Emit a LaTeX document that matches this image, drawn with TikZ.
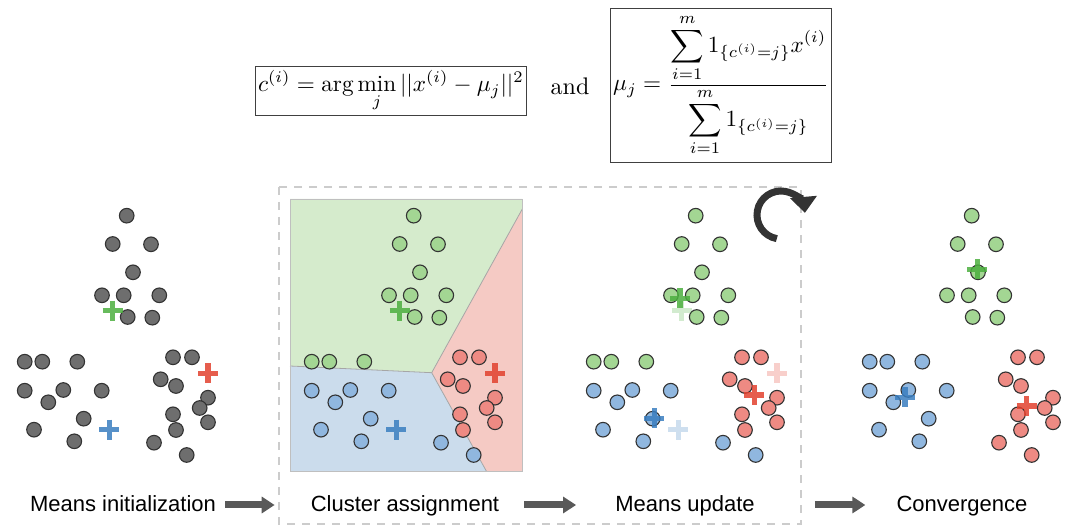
\documentclass[tikz,border=0pt]{standalone}
\usepackage{amsmath}
\usepackage{fontspec}
\setsansfont{Liberation Sans}
\usetikzlibrary{arrows.meta}

\definecolor{ptgray}{HTML}{6E6E6E}
\definecolor{ptgreen}{HTML}{A3D693}
\definecolor{ptblue}{HTML}{90B7DF}
\definecolor{ptred}{HTML}{EE8A83}
\definecolor{crgreen}{HTML}{4CAF3F}
\definecolor{crblue}{HTML}{3A7EC0}
\definecolor{crred}{HTML}{E2412E}
\definecolor{rggreen}{HTML}{D5EBCC}
\definecolor{rgblue}{HTML}{CBDCEC}
\definecolor{rgred}{HTML}{F5CAC4}

\newcommand\topgrp{126.7/215.7, 112.7/244, 151/244.3, 133/272.3, 102/295.3, 123.7/295.3, 159.3/295.3, 127.7/317, 152.3/317.7}
\newcommand\rowgrp{24.7/361.7, 42.3/361.7, 77.3/361.7}
\newcommand\leftgrp{24.7/390.7, 63.3/390, 101.7/390.7, 48.3/402.3, 83.7/418.7, 34/429.7, 74.3/441.3}
\newcommand\edgegrp{154/442.7, 186.7/455}
\newcommand\rightgrp{173/357.3, 192/357.3, 160.7/379.3, 176/386, 208/397.7, 199.7/408, 173/414.3, 208/422.3, 176/430}

\newcommand\pointset[3]{\foreach \px/\py in #2 {\draw[data point, fill=#3] (\px+#1,\py) circle[radius=7.3pt];}}
\newcommand\panel[6]{\pointset{#1}{\topgrp}{#2}\pointset{#1}{\rowgrp}{#3}\pointset{#1}{\leftgrp}{#4}\pointset{#1}{\edgegrp}{#5}\pointset{#1}{\rightgrp}{#6}}
\newcommand\ctrmark[4][]{\draw[centroid, #4, #1] (#2-10,#3) -- (#2+10,#3) (#2,#3-10) -- (#2,#3+10);}

\begin{document}
\begin{tikzpicture}[x=1pt,y=-1pt,
	step label/.style={font=\sffamily\fontsize{22}{26}\selectfont, anchor=base, inner sep=0pt},
	flow arrow/.style={line width=7pt, draw=black!65, -{Triangle[length=13pt,width=16pt]}},
	eq box/.style={draw=black!75, line width=0.8pt, inner xsep=1.2pt, inner ysep=1.5pt, scale=2.32},
	data point/.style={draw=black!80, line width=1.1pt},
	centroid/.style={line width=5.5pt, opacity=0.85}]
	\useasboundingbox (0,0) rectangle (1080,526);

	\node[eq box] (assign eq) at (391,91) {$\displaystyle c^{(i)} = \arg\min_j ||x^{(i)}-\mu_j||^2$};
	\node[scale=2.4] (and) at (570,86) {and};
	\node[eq box, inner ysep=2.5pt] (update eq) at (721,85) {$\displaystyle \mu_j = \frac{\displaystyle\sum_{i=1}^m 1_{\{c^{(i)}=j\}} x^{(i)}}{\displaystyle\sum_{i=1}^m 1_{\{c^{(i)}=j\}}}$};

	\fill[rggreen] (290,199) -- (522.3,199) -- (522.3,209) -- (431.7,372.7) -- (290,366) -- cycle;
	\fill[rgred] (522.3,209) -- (522.3,471.7) -- (486.7,471.7) -- (431.7,372.7) -- cycle;
	\fill[rgblue] (290,366) -- (431.7,372.7) -- (486.7,471.7) -- (290,471.7) -- cycle;
	\draw[black!35, line width=0.8pt] (290,366) -- (431.7,372.7) -- (522.3,209) (431.7,372.7) -- (486.7,471.7);
	\draw[black!25, line width=0.8pt] (290,199) rectangle (522.3,471.7);

	\draw[black!20, line width=2.5pt, dash pattern=on 8pt off 7pt] (279,187) rectangle (801,524);

	\panel{0}{ptgray}{ptgray}{ptgray}{ptgray}{ptgray}
	\panel{287}{ptgreen}{ptgreen}{ptblue}{ptblue}{ptred}
	\panel{569}{ptgreen}{ptgreen}{ptblue}{ptblue}{ptred}
	\panel{845}{ptgreen}{ptblue}{ptblue}{ptred}{ptred}

	\ctrmark{112.7}{310.7}{crgreen}
	\ctrmark{109.3}{429.7}{crblue}
	\ctrmark{208}{373.3}{crred}
	\ctrmark{399.7}{310.7}{crgreen}
	\ctrmark{396.3}{429.7}{crblue}
	\ctrmark{495}{373.3}{crred}
	\ctrmark[opacity=0.25]{681.7}{310.7}{crgreen}
	\ctrmark[opacity=0.25]{678.3}{429.7}{crblue}
	\ctrmark[opacity=0.25]{777}{373.3}{crred}
	\ctrmark{680}{298.3}{crgreen}
	\ctrmark{654.3}{418.3}{crblue}
	\ctrmark{754.3}{395}{crred}
	\ctrmark{977.3}{269.3}{crgreen}
	\ctrmark{905}{397.3}{crblue}
	\ctrmark{1026.7}{406}{crred}

	\draw[line width=7pt, black!80, -{Triangle[length=16pt,width=26pt]}] (781,215) ++(-100:24pt) arc[start angle=-100, end angle=-355, radius=24pt];

	\node[step label] (init) at (123,512) {Means initialization};
	\node[step label] (assign) at (405,512) {Cluster assignment};
	\node[step label] (update) at (685,512) {Means update};
	\node[step label] (conv) at (962,512) {Convergence};

	\draw[flow arrow, shorten <=9pt, shorten >=36pt] ([yshift=7pt]init.base east) -- ([yshift=7pt]assign.base west);
	\draw[flow arrow, shorten <=25pt, shorten >=39pt] ([yshift=7pt]assign.base east) -- ([yshift=7pt]update.base west);
	\draw[flow arrow, shorten <=60pt, shorten >=31pt] ([yshift=7pt]update.base east) -- ([yshift=7pt]conv.base west);
\end{tikzpicture}
\end{document}
